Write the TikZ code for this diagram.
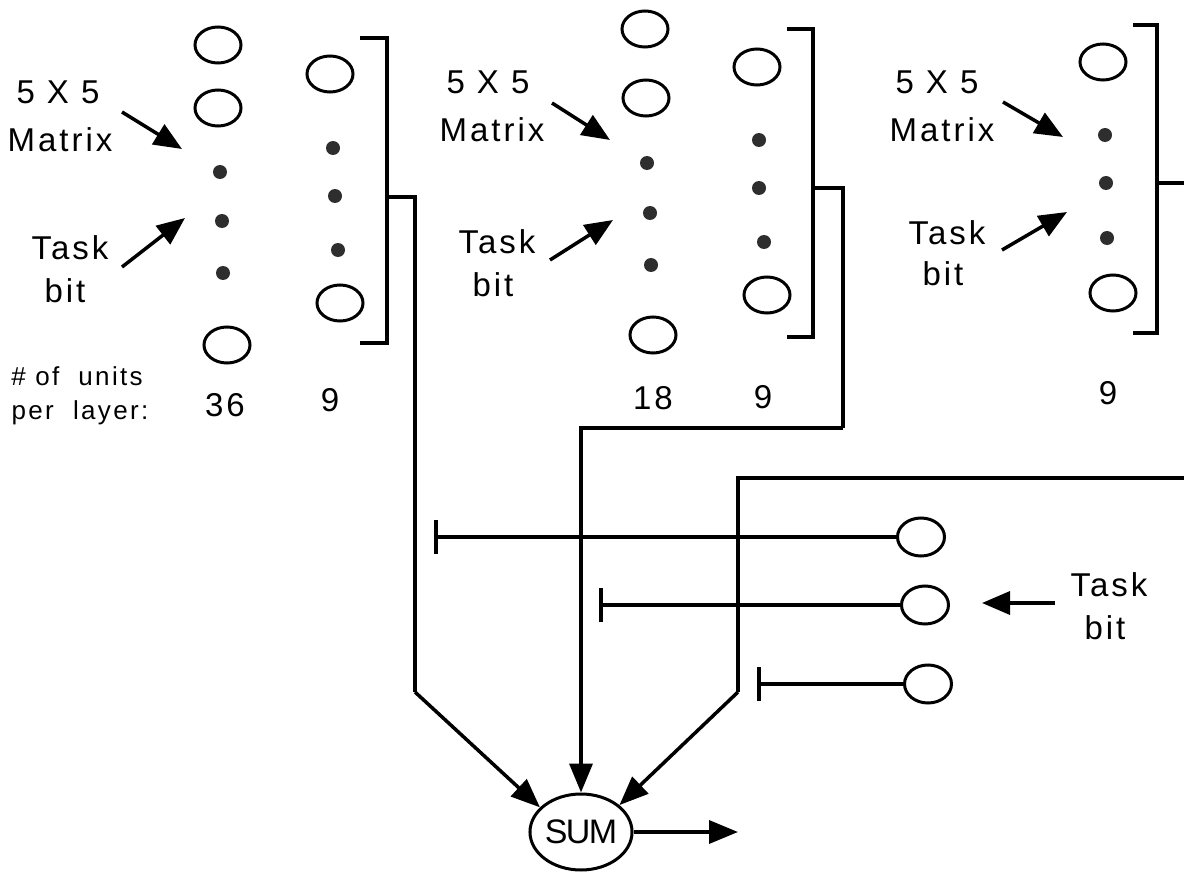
\documentclass[tikz,border=0pt]{standalone}
\usepackage{fontspec}
\setmainfont{Liberation Sans}
\newfontfamily\lsp{Liberation Sans}[LetterSpace=9]
\newfontfamily\sumfont{Liberation Sans}[LetterSpace=-5]
\usetikzlibrary{arrows.meta,shapes.geometric}
\begin{document}
\begin{tikzpicture}[x=1pt,y=-1pt,
  unit/.style={ellipse,draw,line width=3pt,minimum width=46pt,minimum height=36pt,inner sep=0pt},
  dotnode/.style={circle,fill=black!82,minimum size=14pt,inner sep=0pt},
  wire/.style={line width=3.5pt},
  lbl/.style={font=\lsp\fontsize{33}{36}\selectfont,inner sep=0pt},
  small/.style={font=\lsp\fontsize{26}{30}\selectfont,inner sep=0pt},
  lbarrow/.style={line width=3.5pt,-{Triangle[length=28pt,width=23pt]}},
  sumarrow/.style={line width=3.5pt,-{Triangle[length=29pt,width=23pt]}},
  inhib/.style={line width=3.5pt,-{Bar[width=34pt]}}
]
\fill[white] (0,0) rectangle (1184,872);
\useasboundingbox (0,0) rectangle (1184,872);

% ---------- column 1 (36 units) ----------
\node[unit] (a1) at (218,45) {};
\node[unit] (a2) at (218,108) {};
\node[dotnode] (a3) at (220,172) {};
\node[dotnode] (a4) at (222,221) {};
\node[dotnode] (a5) at (223,273) {};
\node[unit] (a6) at (227,345) {};
% ---------- column 2 (9 units) ----------
\node[unit] (b1u) at (330,74) {};
\node[dotnode] (b2u) at (333,148) {};
\node[dotnode] (b3u) at (335,196) {};
\node[dotnode] (b4u) at (338,250) {};
\node[unit] (b5u) at (340,303) {};
% ---------- column 3 (18 units) ----------
\node[unit] (c1) at (645,29) {};
\node[unit] (c2) at (646,98) {};
\node[dotnode] (c3) at (647,163) {};
\node[dotnode] (c4) at (650,213) {};
\node[dotnode] (c5) at (651,265) {};
\node[unit] (c6) at (653,335) {};
% ---------- column 4 (9 units) ----------
\node[unit] (d1) at (757,67) {};
\node[dotnode] (d2) at (759,140) {};
\node[dotnode] (d3) at (759,188) {};
\node[dotnode] (d4) at (764,242) {};
\node[unit] (d5) at (767,295) {};
% ---------- column 5 (9 units) ----------
\node[unit] (e1) at (1103,62) {};
\node[dotnode] (e2) at (1105,135) {};
\node[dotnode] (e3) at (1106,183) {};
\node[dotnode] (e4) at (1107,238) {};
\node[unit] (e5) at (1113,293) {};

% ---------- brackets ----------
\draw[wire] (360,38) -- (387,38) -- (387,343) -- (360,343);
\draw[wire] (787,29) -- (813,29) -- (813,337) -- (787,337);
\draw[wire] (1133,25) -- (1157,25) -- (1157,333) -- (1133,333);
\coordinate (br1) at (387,197);
\coordinate (br2) at (813,188);
\coordinate (br3) at (1157,183);

% ---------- labels group 1 ----------
\node[lbl] (m1a) at (58,92) {5 X 5};
\node[lbl] (m1b) at (60,140) {Matrix};
\node[lbl] (t1a) at (70,248) {Task};
\node[lbl] (t1b) at (65,291) {bit};
\coordinate (m1s) at (122,112); \coordinate (m1t) at (182,149);
\coordinate (t1s) at (122,267); \coordinate (t1t) at (185,218);
\draw[lbarrow] (m1s) -- (m1t);
\draw[lbarrow] (t1s) -- (t1t);
\node[small] (u1) at (77,376) {\#\ of\ \ units};
\node[small] (u2) at (80,413) {per\ \ layer:};
\node[lbl] (n1) at (225,405) {36};
\node[lbl] (n2) at (330,400) {9};

% ---------- labels group 2 ----------
\node[lbl] (m2a) at (488,82) {5 X 5};
\node[lbl] (m2b) at (492,130) {Matrix};
\node[lbl] (t2a) at (497,242) {Task};
\node[lbl] (t2b) at (493,285) {bit};
\coordinate (m2s) at (552,103); \coordinate (m2t) at (610,140);
\coordinate (t2s) at (550,260); \coordinate (t2t) at (613,220);
\draw[lbarrow] (m2s) -- (m2t);
\draw[lbarrow] (t2s) -- (t2t);
\node[lbl] (n3) at (653,398) {18};
\node[lbl] (n4) at (763,397) {9};

% ---------- labels group 3 ----------
\node[lbl] (m3a) at (937,82) {5 X 5};
\node[lbl] (m3b) at (942,130) {Matrix};
\node[lbl] (t3a) at (947,233) {Task};
\node[lbl] (t3b) at (943,274) {bit};
\coordinate (m3s) at (1003,102); \coordinate (m3t) at (1063,137);
\coordinate (t3s) at (1002,250); \coordinate (t3t) at (1067,212);
\draw[lbarrow] (m3s) -- (m3t);
\draw[lbarrow] (t3s) -- (t3t);
\node[lbl] (n5) at (1108,393) {9};

% ---------- SUM ----------
\node[ellipse,draw,line width=3pt,minimum width=98pt,minimum height=76pt,inner sep=0pt,
      font=\sumfont\fontsize{34}{34}\selectfont] (sum) at (581,832) {SUM};
\coordinate (out) at (738,832);
\draw[sumarrow] (sum.east) -- (out);

% ---------- connectors to SUM ----------
\coordinate (k1) at (415,692);
\draw[wire] (br1) -| (k1);
\draw[sumarrow] (k1) -- (sum.149);
\coordinate (k2) at (843,428);
\draw[wire] (br2) -| (k2);
\draw[sumarrow] (k2) -| (sum.north);
\coordinate (r3) at (1184,183);
\draw[wire] (br3) -- (r3);
\coordinate (r4) at (1184,478);
\coordinate (k3) at (738,692);
\draw[wire] (r4) -| (k3);
\draw[sumarrow] (k3) -- (sum.35);

% ---------- gating units ----------
\node[unit,minimum width=47pt,minimum height=38pt] (g1) at (921,537) {};
\node[unit,minimum width=47pt,minimum height=38pt] (g2) at (925,605) {};
\node[unit,minimum width=47pt,minimum height=38pt] (g3) at (928,684) {};
\coordinate (h1) at (434,537);
\coordinate (h2) at (599,605);
\coordinate (h3) at (757,684);
\draw[inhib] (g1.west) -- (h1);
\draw[inhib] (g2.west) -- (h2);
\draw[inhib] (g3.west) -- (h3);

% ---------- task bit input ----------
\node[lbl] (tba) at (1109,585) {Task};
\node[lbl] (tbb) at (1105,628) {bit};
\coordinate (tbs) at (1055,603);
\coordinate (tbt) at (982,603);
\draw[lbarrow] (tbs) -- (tbt);
\end{tikzpicture}
\end{document}
